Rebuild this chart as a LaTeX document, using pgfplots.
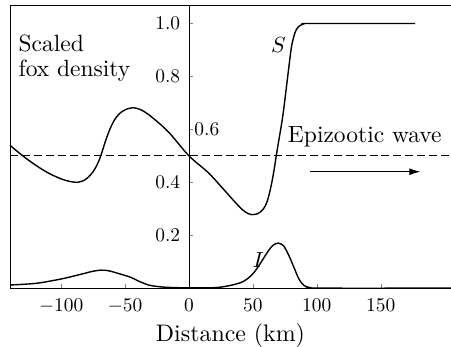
\documentclass[border=0pt]{standalone}
\usepackage{pgfplots}
\pgfplotsset{compat=1.18}
\usetikzlibrary{arrows.meta}
\begin{document}
\begin{tikzpicture}
\begin{axis}[
  scale only axis,
  width=441.6bp, height=283.55bp,
  xmin=-140, xmax=205, ymin=0, ymax=1.07,
  axis x line*=bottom, axis y line*=middle,
  xtick={-100,-50,0,50,100,150},
  ytick={0.2,0.4,0.6,0.8,1.0},
  yticklabels={0.2,0.4,,0.8,1.0},
  tick label style={font=\normalsize, scale=1.95},
  xticklabel style={yshift=-2bp},
  yticklabel style={xshift=-1bp},
  major tick length=4bp,
  tick align=inside,
  xlabel={Distance (km)},
  xlabel style={font=\normalsize, scale=2.4, yshift=2bp},
  axis line style={line width=0.9bp},
  clip=false,
]
\coordinate (bl) at (rel axis cs:0,0);
\coordinate (tr) at (rel axis cs:1,1);
\draw[line width=0.9bp] (rel axis cs:0,0) -- (rel axis cs:0,1) -- (rel axis cs:1,1);
\addplot[black, line width=0.8bp, dash pattern=on 8bp off 4bp] coordinates {(-140,0.5) (205,0.5)};
% S curve
\addplot[black, line width=1.4bp, smooth, tension=0.55] coordinates {
(-140,0.54) (-130,0.50) (-120,0.465) (-110,0.435) (-100,0.413) (-93,0.403) (-87,0.40)
(-83,0.405) (-79,0.418) (-75,0.44) (-72,0.465) (-69,0.50) (-65,0.56) (-61,0.61) (-57,0.645)
(-53,0.665) (-48,0.678) (-44,0.682) (-38,0.675) (-30,0.65) (-16,0.59) (0,0.50)
(15,0.437) (27,0.374) (38,0.315) (44,0.288) (49,0.278) (54,0.282) (58,0.298) (61,0.325)
(63.5,0.37) (66,0.43) (69.5,0.536) (73.4,0.65) (77,0.79) (80,0.905) (82,0.95) (84,0.977)
(87,0.993) (90,0.999) (95,1.0) (177,1.0)};
% I curve
\addplot[black, line width=1.4bp, smooth, tension=0.55] coordinates {
(-140,0.012) (-120,0.018) (-105,0.03) (-95,0.04) (-85,0.052) (-80,0.058) (-75,0.064)
(-69,0.068) (-63,0.066) (-57,0.058) (-50,0.048) (-45,0.04) (-40,0.028) (-35,0.018)
(-30,0.01) (-20,0.004) (-10,0.002) (0,0.001) (20,0.002) (30,0.008) (40,0.02) (45,0.033)
(50,0.054) (54,0.08) (58,0.11) (62,0.14) (66,0.163) (70,0.17) (74,0.16) (78,0.125) (82,0.08)
(86,0.035) (90,0.01) (95,0.002) (100,0) (205,0)};
\node[anchor=west, font=\normalsize, scale=1.95, inner sep=0pt] at (axis cs:4,0.6) {0.6};
\node[anchor=north west, align=left, inner sep=0pt, font=\normalsize, scale=2.36] at (axis cs:-133.6,0.958) {Scaled\\[-1.5pt]fox density};
\node[font=\normalsize, scale=2.2] at (axis cs:70,0.919) {$S$};
\node[font=\normalsize, scale=2.2] at (axis cs:54.3,0.106) {$I$};
\node[anchor=base west, inner sep=0pt, font=\normalsize, scale=2.36] at (axis cs:77.1,0.551) {Epizootic wave};
\draw[line width=1.1bp, -{Latex[length=11bp,width=7bp]}] (axis cs:95,0.44) -- (axis cs:181,0.44);
\end{axis}
\pgfresetboundingbox
\path ([shift={(-10bp,-58bp)}]bl) rectangle ([shift={(0bp,5bp)}]tr);
\end{tikzpicture}
\end{document}
